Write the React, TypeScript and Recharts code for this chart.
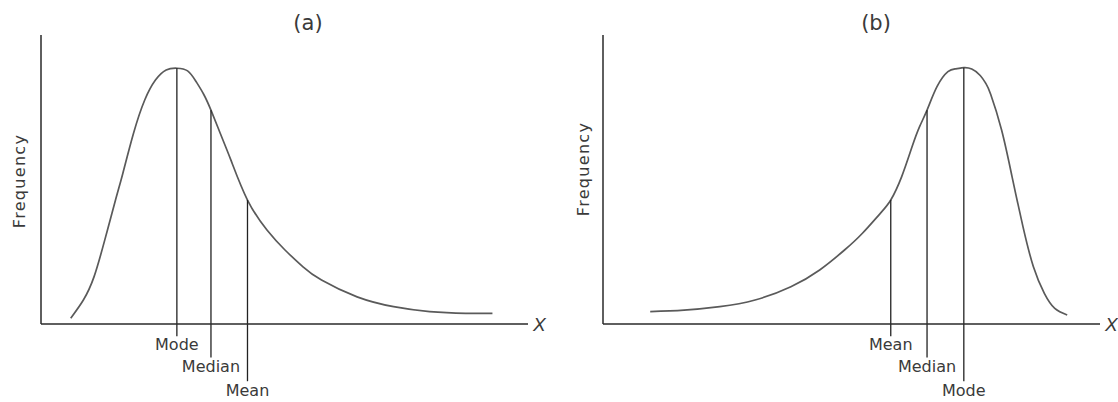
import { LineChart, Line, XAxis, YAxis, ReferenceLine } from "recharts";

// (a) positively skewed curve
const rightSkewX = [6.1, 8.7, 10.9, 13.1, 15.3, 16.8, 19.0, 21.3, 23.5, 25.7, 27.9, 30.1, 31.8, 33.4, 34.9, 36.8, 39.0, 42.4, 46.4, 50.1, 53.8, 57.6, 64.9, 72.4, 79.8, 87.2, 92.7];
const rightSkewFreq = [2.0, 8.3, 16.4, 29.1, 42.9, 52.1, 66.0, 77.5, 84.4, 87.9, 88.5, 87.6, 84.0, 79.5, 74.0, 66.0, 56.7, 42.9, 32.5, 25.6, 19.8, 15.2, 9.4, 6.0, 4.3, 3.7, 3.7];
const rightSkewMarkers = ["Mode", "Median", "Mean"];
const rightSkewMarkerX = [27.9, 34.9, 42.4];
const rightSkewMarkerFreq = [88.5, 74.0, 42.9];

// (b) negatively skewed curve
const leftSkewX = [9.5, 16.3, 23.5, 30.6, 37.8, 43.6, 48.6, 52.2, 55.8, 57.9, 60.1, 62.2, 63.7, 65.2, 67.2, 69.4, 71.0, 72.6, 74.2, 75.9, 77.0, 78.0, 80.2, 82.3, 84.5, 86.6, 88.8, 90.9, 93.4];
const leftSkewFreq = [4.3, 4.8, 6.0, 8.3, 12.9, 18.7, 25.6, 31.4, 38.3, 42.9, 51.0, 61.4, 68.3, 74.0, 82.1, 87.3, 88.3, 88.7, 88.2, 86.0, 83.3, 79.5, 67.1, 51.0, 33.7, 19.8, 10.6, 5.4, 3.1];
const leftSkewMarkers = ["Mean", "Median", "Mode"];
const leftSkewMarkerX = [57.9, 65.2, 72.6];
const leftSkewMarkerFreq = [42.9, 74.0, 88.7];

// how far each marker line drops below the axis (stacked labels)
const markerDrop = [-4.2, -11.6, -19.8];

const FONT = "DejaVu Sans";
const INK = "#3a3a3a";

type PanelProps = {
  title: string;
  titleX: number;
  width: number;
  axisWidth: number;
  rightMargin: number;
  freqLabelX: number;
  freqLabelY: number;
  xs: number[];
  freq: number[];
  markers: string[];
  markerX: number[];
  markerFreq: number[];
};

function SkewPanel(p: PanelProps) {
  const data = p.xs.map((x, i) => ({ x, freq: p.freq[i] }));
  return (
    <div style={{ position: "relative", width: p.width, height: 402 }}>
      <div
        style={{
          position: "absolute",
          left: p.titleX,
          top: 11,
          transform: "translateX(-50%)",
          fontFamily: FONT,
          fontSize: 21,
          color: INK,
          lineHeight: "24px",
        }}
      >
        {p.title}
      </div>
      <LineChart width={p.width} height={402} data={data} margin={{ top: 35, right: p.rightMargin, left: 0, bottom: 0 }}>
        <XAxis
          type="number"
          dataKey="x"
          domain={[0, 100]}
          tick={false}
          tickLine={false}
          height={78}
          axisLine={{ stroke: "#2a2a2a", strokeWidth: 1.5 }}
          label={(props: any) => {
            const vb = props.viewBox;
            return (
              <text
                x={vb.x + vb.width + 5}
                y={vb.y + 7}
                fontFamily="Liberation Sans"
                fontStyle="italic"
                fontSize={19}
                fill={INK}
              >
                X
              </text>
            );
          }}
        />
        <YAxis
          type="number"
          domain={[0, 100]}
          width={p.axisWidth}
          tick={false}
          tickLine={false}
          axisLine={{ stroke: "#2a2a2a", strokeWidth: 1.5 }}
          label={() => (
            <text
              x={p.freqLabelX}
              y={p.freqLabelY}
              transform={`rotate(-90 ${p.freqLabelX} ${p.freqLabelY})`}
              textAnchor="middle"
              dominantBaseline="central"
              fontFamily={FONT}
              fontSize={16}
              letterSpacing={1.3}
              fill={INK}
            >
              Frequency
            </text>
          )}
        />
        <Line
          type="natural"
          dataKey="freq"
          stroke="#5a5a5a"
          strokeWidth={1.7}
          dot={false}
          isAnimationActive={false}
        />
        {p.markers.map((name, i) => (
          <ReferenceLine
            key={name}
            ifOverflow="visible"
            stroke="#222"
            strokeWidth={1.3}
            segment={[
              { x: p.markerX[i], y: p.markerFreq[i] },
              { x: p.markerX[i], y: markerDrop[i] },
            ]}
            label={{
              value: name,
              position: "bottom",
              offset: 3,
              fill: INK,
              fontSize: 16,
              fontFamily: FONT,
            }}
          />
        ))}
      </LineChart>
    </div>
  );
}

export default function App() {
  return (
    <div style={{ position: "absolute", left: 0, top: 0, width: 1118, height: 402, display: "flex", background: "#fff" }}>
      <SkewPanel
        title="(a)"
        titleX={308}
        width={559}
        axisWidth={41}
        rightMargin={31}
        freqLabelX={19}
        freqLabelY={181}
        xs={rightSkewX}
        freq={rightSkewFreq}
        markers={rightSkewMarkers}
        markerX={rightSkewMarkerX}
        markerFreq={rightSkewMarkerFreq}
      />
      <SkewPanel
        title="(b)"
        titleX={317}
        width={559}
        axisWidth={44}
        rightMargin={18}
        freqLabelX={24}
        freqLabelY={169}
        xs={leftSkewX}
        freq={leftSkewFreq}
        markers={leftSkewMarkers}
        markerX={leftSkewMarkerX}
        markerFreq={leftSkewMarkerFreq}
      />
    </div>
  );
}
